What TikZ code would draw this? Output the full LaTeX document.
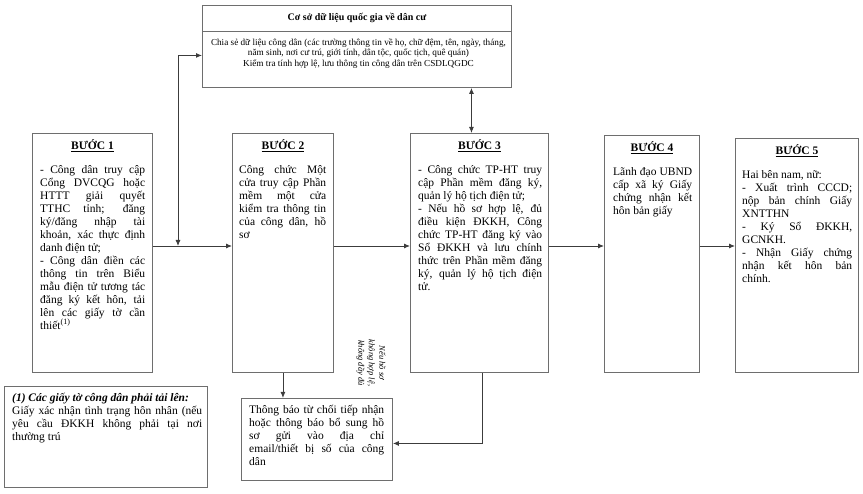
\documentclass[tikz,border=0pt]{standalone}
\usepackage{fontspec}
\setmainfont{Liberation Serif}
\usetikzlibrary{arrows.meta}
\usetikzlibrary{calc}
\definecolor{framegray}{HTML}{6E6E6E}
\definecolor{arrowgray}{HTML}{3C3C3C}
\setlength{\parindent}{0pt}
\hyphenpenalty=10000
\exhyphenpenalty=10000
\tolerance=10000
\hbadness=10000
\tikzset{
	boxframe/.style={shape=rectangle,draw=framegray,line width=0.9pt,inner sep=0pt},
	steptitle/.style={font=\fontsize{11.5}{13}\selectfont\bfseries,inner sep=0pt},
	stepbody/.style={font=\fontsize{11.5}{13}\selectfont,align=justify,inner sep=0pt},
	arr/.style={draw=arrowgray,line width=0.9pt,-{Latex[length=6pt,width=5pt]}},
}
% #1 corner, #2 name, #3 width, #4 height, #5 margin, #6 text width, #7 title, #8 text
\newcommand{\drawbuoc}[8]{
	\draw #1 node (#2) [boxframe,anchor=north west,minimum width=#3,minimum height=#4] {};
	\draw (#2.north) ++(down:16.5pt) node (#2h) [steptitle,anchor=base] {\underline{#7}};
	\draw (#2.north west) ++(right:#5) ++(down:32pt) node (#2t) [stepbody,anchor=north west,text width=#6] {#8};
}

\begin{document}
\begin{tikzpicture}[x=1pt,y=-1pt]
	\useasboundingbox (0,0) rectangle (863,494);
	% database box
	\draw (202,5) node (csdl) [boxframe,anchor=north west,minimum width=309pt,minimum height=82pt] {};
	\draw ([yshift=-26pt]csdl.north west) -- ([yshift=-26pt]csdl.north east) [draw=framegray,line width=0.9pt];
	\draw (csdl.north) ++(down:15.5pt) node (csdlh) [inner sep=0pt,anchor=base,font=\fontsize{10}{12}\selectfont\bfseries] {Cơ sở dữ liệu quốc gia về dân cư};
	\draw (csdl.north) ++(right:1.5pt) ++(down:33.5pt) node (csdlt) [inner sep=0pt,anchor=north,align=center,font=\fontsize{9.2}{10.6}\selectfont] {Chia sẻ dữ liệu công dân (các trường thông tin về họ, chữ đệm, tên, ngày, tháng,\\năm sinh, nơi cư trú, giới tính, dân tộc, quốc tịch, quê quán)\\Kiểm tra tính hợp lệ, lưu thông tin công dân trên CSDLQGDC};
	% steps
	\drawbuoc{(32,133)}{b1}{120pt}{239pt}{8pt}{105pt}{BƯỚC 1}{- Công dân truy cập\linebreak Cổng DVCQG hoặc\linebreak HTTT giải quyết\linebreak TTHC tỉnh; đăng\linebreak ký/đăng nhập tài\linebreak khoản, xác thực định\linebreak danh điện tử;\par - Công dân điền các\linebreak thông tin trên Biểu\linebreak mẫu điện tử tương tác\linebreak đăng ký kết hôn, tải\linebreak lên các giấy tờ cần\linebreak thiết\textsuperscript{(1)}};
	\drawbuoc{(232,133)}{b2}{101pt}{239pt}{7pt}{87pt}{BƯỚC 2}{Công chức Một\linebreak cửa truy cập Phần\linebreak mềm một cửa\linebreak kiểm tra thông tin\linebreak của công dân, hồ\linebreak sơ};
	\drawbuoc{(410,133)}{b3}{138pt}{239pt}{8pt}{124pt}{BƯỚC 3}{- Công chức TP-HT truy\linebreak cập Phần mềm đăng ký,\linebreak quản lý hộ tịch điện tử;\par - Nếu hồ sơ hợp lệ, đủ\linebreak điều kiện ĐKKH, Công\linebreak chức TP-HT đăng ký vào\linebreak Sổ ĐKKH và lưu chính\linebreak thức trên Phần mềm đăng\linebreak ký, quản lý hộ tịch điện\linebreak tử.};
	\drawbuoc{(604,135)}{b4}{95pt}{237pt}{9pt}{79pt}{BƯỚC 4}{Lãnh đạo UBND\linebreak cấp xã ký Giấy\linebreak chứng nhận kết\linebreak hôn bản giấy};
	\drawbuoc{(735,138)}{b5}{123pt}{234pt}{7pt}{110pt}{BƯỚC 5}{Hai bên nam, nữ:\par - Xuất trình CCCD;\linebreak nộp bản chính Giấy\linebreak XNTTHN\par - Ký Sổ ĐKKH,\linebreak GCNKH.\par - Nhận Giấy chứng\linebreak nhận kết hôn bản\linebreak chính.};
	% footnote and notice
	\draw (4,386) node (fn) [boxframe,anchor=north west,minimum width=203pt,minimum height=101pt] {};
	\draw (fn.north west) ++(right:8pt) ++(down:7pt) node (fnt) [stepbody,anchor=north west,text width=190pt] {{\bfseries\itshape (1) Các giấy tờ công dân phải tải lên:}\par Giấy xác nhận tình trạng hôn nhân (nếu\linebreak yêu cầu ĐKKH không phải tại nơi\linebreak thường trú};
	\draw (241,398) node (tb) [boxframe,anchor=north west,minimum width=151pt,minimum height=82pt] {};
	\draw (tb.north west) ++(right:8pt) ++(down:7pt) node (tbt) [stepbody,anchor=north west,text width=135pt] {Thông báo từ chối tiếp nhận\linebreak hoặc thông báo bổ sung hồ\linebreak sơ gửi vào địa chỉ\linebreak email/thiết bị số của công\linebreak dân};
	\draw (371,363) node (nl) [inner sep=0pt,rotate=-90,align=center,font=\fontsize{8.5}{10.5}\selectfont\itshape] {Nếu hồ sơ\\không hợp lệ,\\không đầy đủ};
	% connectors
	\coordinate (ly) at (0,246);
	\coordinate (j1) at (178,246);
	\draw[arr] (b1.east |- ly) -- (b2.west |- ly);
	\draw[arr] (b2.east |- ly) -- (b3.west |- ly);
	\draw[arr] (b3.east |- ly) -- (b4.west |- ly);
	\draw[arr] (b4.east |- ly) -- (b5.west |- ly);
	\draw[arr,{Latex[length=6pt,width=5pt]}-{Latex[length=6pt,width=5pt]}] (j1) |- ([yshift=-9pt]csdl.west);
	\draw[arr,{Latex[length=6pt,width=5pt]}-{Latex[length=6pt,width=5pt]}] ([xshift=-8pt]b3.north) -- ([xshift=-8pt]b3.north |- csdl.south);
	\draw[arr] (b2.south) -- (b2.south |- tb.north);
	\draw[arr] ([xshift=3pt]b3.south) |- ([yshift=-4pt]tb.east);
\end{tikzpicture}
\end{document}
